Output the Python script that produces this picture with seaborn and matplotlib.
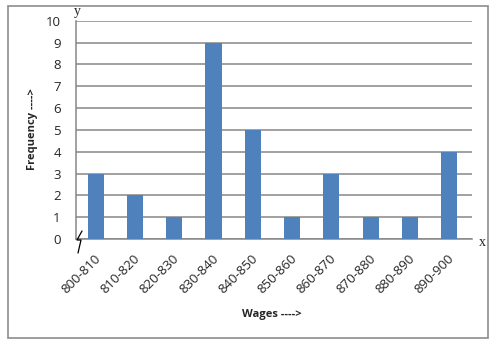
import matplotlib
matplotlib.use("Agg")
import matplotlib.pyplot as plt
import seaborn as sns
import pandas as pd
from matplotlib.patches import Rectangle
from matplotlib.lines import Line2D
from matplotlib.transforms import ScaledTranslation

categories = ["800-810", "810-820", "820-830", "830-840", "840-850",
              "850-860", "860-870", "870-880", "880-890", "890-900"]
frequency = [3, 2, 1, 9, 5, 1, 3, 1, 1, 4]
y_ticks = list(range(0, 11))

df = pd.DataFrame({"Wages": categories, "Frequency": frequency})

sns.set_style("white")
plt.rcParams["font.family"] = ["Open Sans", "DejaVu Sans"]

W, H = 493, 351
fig = plt.figure(figsize=(W / 100, H / 100), dpi=100)

def fx(px):
    return px / W

def fy(py):
    return 1 - py / H

ax = fig.add_axes([fx(76), fy(239), fx(472) - fx(76), fy(20.7) - fy(239)])
sns.barplot(data=df, x="Wages", y="Frequency", color="#4F81BD",
            saturation=1, width=0.41, linewidth=0, ax=ax, zorder=3)

ax.set_xlim(-0.5, 9.58)
ax.set_ylim(0, 10)
ax.set_yticks(y_ticks)
ax.yaxis.grid(True, color="#878787", linewidth=1.1, zorder=0)
ax.set_axisbelow(True)
for s in ["top", "right"]:
    ax.spines[s].set_visible(False)
for s in ["left", "bottom"]:
    ax.spines[s].set_color("#878787")
    ax.spines[s].set_linewidth(1.1)
ax.tick_params(axis="y", length=5, width=1, color="#878787", labelsize=9.5, pad=6)
ax.tick_params(axis="x", length=0, labelsize=9.5, pad=0)
offset = ScaledTranslation(3 / 100, -18 / 100, fig.dpi_scale_trans)
for lab in ax.get_xticklabels():
    lab.set_rotation(45)
    lab.set_ha("right")
    lab.set_va("center")
    lab.set_rotation_mode("anchor")
    lab.set_transform(lab.get_transform() + offset)

ax.set_xlabel("")
ax.set_ylabel("")
fig.text(fx(272), fy(314), "Wages ---->", ha="center", va="center",
         fontsize=8, fontweight="bold")
fig.text(fx(33), fy(129), "Frequency ---->", ha="center", va="center",
         fontsize=8, fontweight="bold", rotation=90)
fig.text(fx(77), fy(12), "y", ha="center", va="center", fontsize=10,
         family=["Liberation Serif", "DejaVu Serif"])
fig.text(fx(482), fy(242), "x", ha="center", va="center", fontsize=10,
         family=["Liberation Serif", "DejaVu Serif"])

# axis break mark
bx = [82, 77, 81, 78]
by = [231, 240, 240, 253]
fig.add_artist(Line2D([fx(v) for v in bx], [fy(v) for v in by],
                      color="black", linewidth=0.9))

# outer border
fig.add_artist(Rectangle((fx(8), fy(338)), fx(488) - fx(8), fy(6) - fy(338),
                         transform=fig.transFigure, fill=False,
                         edgecolor="#8c8c8c", linewidth=1.2))

fig.savefig("out.png", dpi=100)
